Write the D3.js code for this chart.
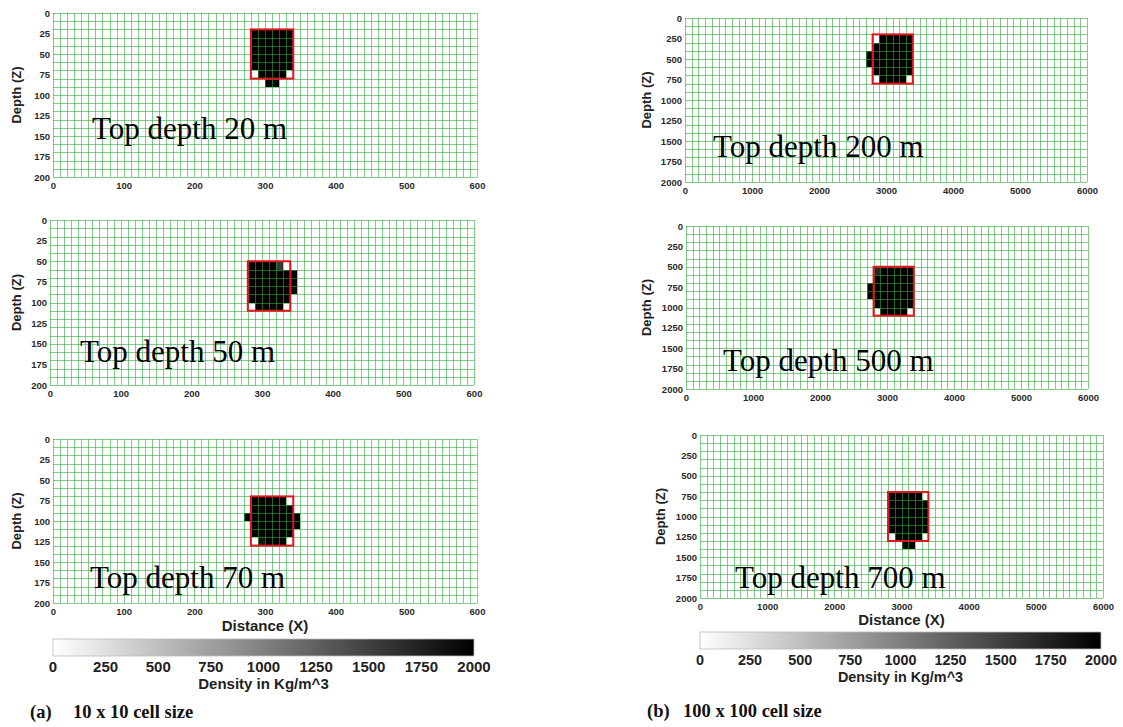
<!DOCTYPE html>
<html>
<head>
<meta charset="utf-8">
<script src="https://cdn.jsdelivr.net/npm/d3@7"></script>
<style>
  html, body { margin: 0; padding: 0; background: #fff; }
  svg { display: block; }
  .tick-label { font-family: "Liberation Sans", Arial, sans-serif; font-weight: bold; fill: #2a2a2a; }
  .axis-title { font-family: "Liberation Sans", Arial, sans-serif; font-weight: bold; fill: #222; }
  .note { font-family: "Liberation Serif", "Times New Roman", serif; fill: #000; }
  .caption { font-family: "Liberation Serif", "Times New Roman", serif; font-weight: bold; fill: #111; }
</style>
</head>
<body>
<svg id="fig" width="1123" height="727"></svg>
<script>
// ---- data -------------------------------------------------------------
const densityTicks = [0, 250, 500, 750, 1000, 1250, 1500, 1750, 2000];

// (a) 10 x 10 m cells over a 600 x 200 m section
const distanceTicksA = [0, 100, 200, 300, 400, 500, 600];
const depthTicksA = [0, 25, 50, 75, 100, 125, 150, 175, 200];
const topDepthsA = [20, 50, 70];

// (b) 100 x 100 m cells over a 6000 x 2000 m section
const distanceTicksB = [0, 1000, 2000, 3000, 4000, 5000, 6000];
const depthTicksB = [0, 250, 500, 750, 1000, 1250, 1500, 1750, 2000];
const topDepthsB = [200, 500, 700];

// Recovered density (kg/m^3) around the body: columns 27..34,
// first row = top depth / cell size.
const anomalyColumn0 = 27;

const recovered_a20 = [
  [0, 2000, 2000, 2000, 2000, 2000, 2000, 0],
  [0, 2000, 2000, 2000, 2000, 2000, 2000, 0],
  [0, 2000, 2000, 2000, 2000, 2000, 2000, 0],
  [0, 2000, 2000, 2000, 2000, 2000, 2000, 0],
  [0, 2000, 2000, 2000, 2000, 2000, 2000, 0],
  [0, 0, 2000, 2000, 2000, 2000, 0, 0],
  [0, 0, 0, 2000, 2000, 0, 0, 0]
];
const recovered_a50 = [
  [0, 2000, 2000, 2000, 2000, 1550, 0, 0],
  [0, 2000, 2000, 2000, 2000, 2000, 2000, 2000],
  [0, 2000, 2000, 2000, 2000, 2000, 2000, 2000],
  [0, 2000, 2000, 2000, 2000, 2000, 2000, 1900],
  [0, 2000, 2000, 2000, 2000, 2000, 2000, 0],
  [0, 0, 2000, 2000, 2000, 2000, 0, 0]
];
const recovered_a70 = [
  [0, 2000, 2000, 2000, 2000, 2000, 0, 0],
  [0, 2000, 2000, 2000, 2000, 2000, 2000, 0],
  [2000, 2000, 2000, 2000, 2000, 2000, 2000, 2000],
  [0, 2000, 2000, 2000, 2000, 2000, 2000, 2000],
  [0, 2000, 2000, 2000, 2000, 2000, 2000, 0],
  [0, 0, 1850, 2000, 2000, 2000, 0, 0]
];
const recovered_b200 = [
  [0, 0, 2000, 2000, 2000, 2000, 2000, 0],
  [0, 2000, 2000, 2000, 2000, 2000, 2000, 0],
  [2000, 2000, 2000, 2000, 2000, 2000, 2000, 0],
  [2000, 2000, 2000, 2000, 2000, 2000, 2000, 0],
  [0, 2000, 2000, 2000, 2000, 2000, 2000, 0],
  [0, 0, 2000, 2000, 2000, 2000, 0, 0]
];
const recovered_b500 = [
  [0, 1700, 2000, 2000, 2000, 2000, 2000, 0],
  [0, 2000, 2000, 2000, 2000, 2000, 2000, 0],
  [2000, 2000, 2000, 2000, 2000, 2000, 2000, 0],
  [2000, 2000, 2000, 2000, 2000, 2000, 2000, 0],
  [0, 2000, 2000, 2000, 2000, 2000, 2000, 0],
  [0, 0, 2000, 2000, 2000, 2000, 0, 0]
];
const recovered_b700 = [
  [0, 2000, 2000, 2000, 2000, 2000, 0, 0],
  [0, 2000, 2000, 2000, 2000, 2000, 2000, 0],
  [0, 2000, 2000, 2000, 2000, 2000, 2000, 0],
  [0, 2000, 2000, 2000, 2000, 2000, 2000, 0],
  [0, 2000, 2000, 2000, 2000, 2000, 2000, 0],
  [0, 0, 2000, 2000, 2000, 2000, 0, 0],
  [0, 0, 0, 2000, 2000, 0, 0, 0]
];

// True body outline: [x0, x1] in columns, 6 cells tall from the top depth
const bodyColumns = [28, 34];
const bodyRowsTall = 6;

// ---- layout -------------------------------------------------------------
const svg = d3.select("#fig");
const densityColor = d3.scaleLinear().domain([0, 2000]).range(["#ffffff", "#000000"]);
const plain = d3.format("d");

const panels = [
  { x: 53,  y: 13,  w: 424, h: 164, cell: 10,  xMax: 600,  zMax: 200,  top: topDepthsA[0], grid: recovered_a20,  xt: distanceTicksA, zt: depthTicksA, note: [92, 139],  ylab: 18 },
  { x: 50,  y: 220, w: 424, h: 165, cell: 10,  xMax: 600,  zMax: 200,  top: topDepthsA[1], grid: recovered_a50,  xt: distanceTicksA, zt: depthTicksA, note: [80, 362],  ylab: 18 },
  { x: 53,  y: 439, w: 424, h: 164, cell: 10,  xMax: 600,  zMax: 200,  top: topDepthsA[2], grid: recovered_a70,  xt: distanceTicksA, zt: depthTicksA, note: [90, 588],  ylab: 18, xTitle: 631 },
  { x: 685, y: 18,  w: 402, h: 164, cell: 100, xMax: 6000, zMax: 2000, top: topDepthsB[0], grid: recovered_b200, xt: distanceTicksB, zt: depthTicksB, note: [713, 157], ylab: 648 },
  { x: 686, y: 226, w: 402, h: 163, cell: 100, xMax: 6000, zMax: 2000, top: topDepthsB[1], grid: recovered_b500, xt: distanceTicksB, zt: depthTicksB, note: [723, 371], ylab: 648 },
  { x: 700, y: 435, w: 403, h: 163, cell: 100, xMax: 6000, zMax: 2000, top: topDepthsB[2], grid: recovered_b700, xt: distanceTicksB, zt: depthTicksB, note: [735, 588], ylab: 662, xTitle: 625 }
];

panels.forEach(p => {
  const g = svg.append("g");
  const x = d3.scaleLinear().domain([0, p.xMax]).range([p.x, p.x + p.w]);
  const z = d3.scaleLinear().domain([0, p.zMax]).range([p.y, p.y + p.h]);
  const nx = p.xMax / p.cell, nz = p.zMax / p.cell;
  const row0 = p.top / p.cell;

  // full density model, zero outside the recovered window
  const cells = [];
  for (let j = 0; j < nz; j++) {
    for (let i = 0; i < nx; i++) {
      const r = j - row0, c = i - anomalyColumn0;
      const v = (r >= 0 && r < p.grid.length && c >= 0 && c < p.grid[r].length) ? p.grid[r][c] : 0;
      cells.push({ i, j, v });
    }
  }
  g.append("g").selectAll("rect").data(cells).join("rect")
    .attr("x", d => x(d.i * p.cell))
    .attr("y", d => z(d.j * p.cell))
    .attr("width", x(p.cell) - x(0))
    .attr("height", z(p.cell) - z(0))
    .attr("fill", d => densityColor(d.v))
    .attr("shape-rendering", "crispEdges");

  // cell mesh
  const mesh = g.append("g").attr("stroke", "#2eaa3a").attr("stroke-opacity", 0.6)
    .attr("stroke-width", 1);
  mesh.selectAll("line.v").data(d3.range(nx + 1)).join("line")
    .attr("x1", i => Math.round(x(i * p.cell)) + 0.5).attr("x2", i => Math.round(x(i * p.cell)) + 0.5)
    .attr("y1", z(0)).attr("y2", z(p.zMax));
  mesh.selectAll("line.h").data(d3.range(nz + 1)).join("line")
    .attr("y1", j => Math.round(z(j * p.cell)) + 0.5).attr("y2", j => Math.round(z(j * p.cell)) + 0.5)
    .attr("x1", x(0)).attr("x2", x(p.xMax));

  // true body outline
  g.append("rect")
    .attr("x", x(bodyColumns[0] * p.cell))
    .attr("y", z(p.top))
    .attr("width", x(bodyColumns[1] * p.cell) - x(bodyColumns[0] * p.cell))
    .attr("height", z(p.top + bodyRowsTall * p.cell) - z(p.top))
    .attr("fill", "none").attr("stroke", "#e0141c").attr("stroke-width", 2);

  // axes
  const xa = d3.axisBottom(x).tickValues(p.xt).tickFormat(plain).tickSize(0).tickPadding(5);
  g.append("g").attr("transform", `translate(0,${p.y + p.h})`).call(xa)
    .call(s => s.select(".domain").remove())
    .selectAll("text").attr("class", "tick-label").style("font-size", "9.5px");
  const za = d3.axisLeft(z).tickValues(p.zt).tickFormat(plain).tickSize(0).tickPadding(3);
  g.append("g").attr("transform", `translate(${p.x},0)`).call(za)
    .call(s => s.select(".domain").remove())
    .selectAll("text").attr("class", "tick-label").style("font-size", "9.5px");

  g.append("text").attr("class", "axis-title")
    .attr("transform", `translate(${p.ylab},${p.y + p.h / 2}) rotate(-90)`)
    .attr("text-anchor", "middle").attr("dominant-baseline", "middle")
    .style("font-size", "13px").text("Depth (Z)");

  if (p.xTitle) {
    g.append("text").attr("class", "axis-title")
      .attr("x", p.x + p.w / 2).attr("y", p.xTitle)
      .attr("text-anchor", "middle").style("font-size", "15px").text("Distance (X)");
  }

  g.append("text").attr("class", "note")
    .attr("x", p.note[0]).attr("y", p.note[1])
    .style("font-size", "31px").text(`Top depth ${p.top} m`);
});

// ---- colour bars ----------------------------------------------------------
const defs = svg.append("defs");
const grad = defs.append("linearGradient").attr("id", "greys");
grad.selectAll("stop").data(densityTicks).join("stop")
  .attr("offset", d => d / 2000)
  .attr("stop-color", d => densityColor(d));

function colorbar(x0, x1, y, h, labelY, titleY, size) {
  const s = d3.scaleLinear().domain([0, 2000]).range([x0, x1]);
  svg.append("rect").attr("x", x0).attr("y", y).attr("width", x1 - x0).attr("height", h)
    .attr("fill", "url(#greys)").attr("stroke", "#bbb").attr("stroke-width", 0.8);
  svg.append("g").selectAll("text").data(densityTicks).join("text")
    .attr("class", "axis-title").attr("x", d => s(d)).attr("y", labelY)
    .attr("text-anchor", "middle").style("font-size", size + "px").text(d => d);
  svg.append("text").attr("class", "axis-title").attr("x", (x0 + x1) / 2).attr("y", titleY)
    .attr("text-anchor", "middle").style("font-size", size + "px").text("Density in Kg/m^3");
}
colorbar(53, 474, 639, 17, 672, 689, 15);
colorbar(700, 1101, 632, 17, 665, 682, 14.4);

// ---- captions -------------------------------------------------------------
svg.append("text").attr("class", "caption").attr("x", 30).attr("y", 718)
  .style("font-size", "18.5px").text("(a)");
svg.append("text").attr("class", "caption").attr("x", 73).attr("y", 718)
  .style("font-size", "18.5px").text("10 x 10 cell size");
svg.append("text").attr("class", "caption").attr("x", 647).attr("y", 717)
  .style("font-size", "18.5px").text("(b)");
svg.append("text").attr("class", "caption").attr("x", 683).attr("y", 717)
  .style("font-size", "18.5px").text("100 x 100 cell size");
</script>
</body>
</html>
